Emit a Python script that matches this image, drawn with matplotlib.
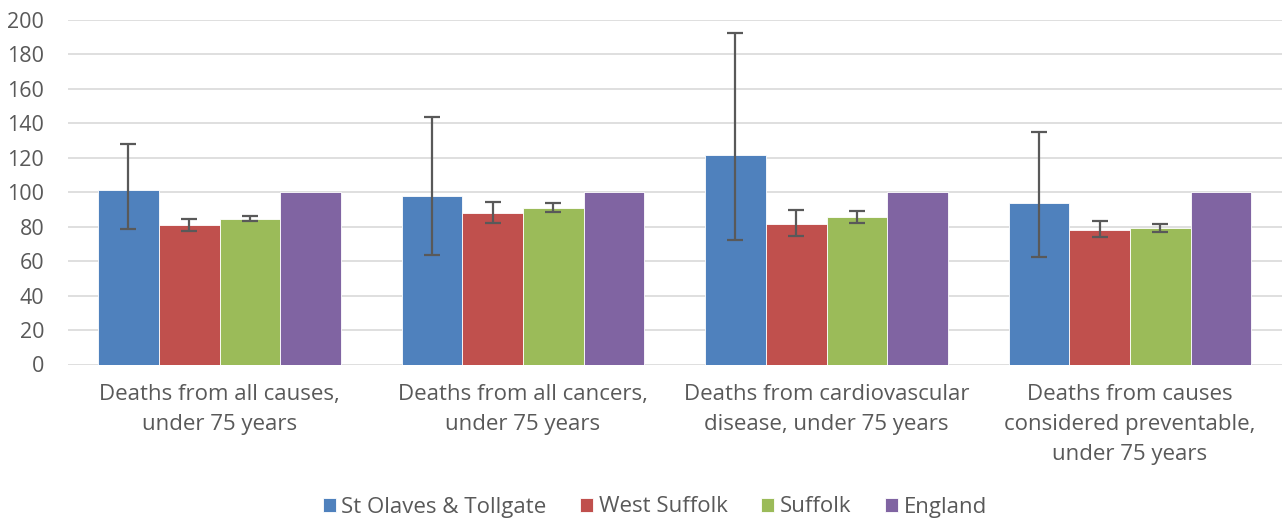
import matplotlib.pyplot as plt
import numpy as np

TEXT = "#595959"
GRID = "#D9D9D9"
ERR = "#595959"

categories = [
    "Deaths from all causes,\nunder 75 years",
    "Deaths from all cancers,\nunder 75 years",
    "Deaths from cardiovascular\ndisease, under 75 years",
    "Deaths from causes\nconsidered preventable,\nunder 75 years",
]
series_names = ["St Olaves & Tollgate", "West Suffolk", "Suffolk", "England"]
series_colors = ["#4F81BD", "#C0504D", "#9BBB59", "#8064A2"]

st_olaves = [101.0, 97.5, 121.5, 93.6]
st_olaves_low = [78.7, 63.4, 72.3, 62.4]
st_olaves_high = [128.0, 143.5, 192.5, 134.6]

west_suffolk = [80.7, 87.8, 81.6, 78.3]
west_suffolk_low = [77.5, 82.0, 74.6, 73.7]
west_suffolk_high = [84.3, 94.0, 89.4, 83.3]

suffolk = [84.5, 90.7, 85.5, 79.1]
suffolk_low = [83.2, 88.2, 82.2, 76.8]
suffolk_high = [86.2, 93.6, 89.1, 81.6]

england = [100, 100, 100, 100]

values = [st_olaves, west_suffolk, suffolk, england]
lows = [st_olaves_low, west_suffolk_low, suffolk_low, None]
highs = [st_olaves_high, west_suffolk_high, suffolk_high, None]

plt.rcParams["font.family"] = ["Open Sans", "DejaVu Sans"]

fig = plt.figure(figsize=(12.82, 5.19), dpi=100, facecolor="white")
ax = fig.add_axes([67.75 / 1282, 1 - 364.5 / 519, (1281.75 - 67.75) / 1282, (364.5 - 19.7) / 519])

x = np.arange(len(categories))
width = 0.2
for i, (name, vals, color) in enumerate(zip(series_names, values, series_colors)):
    pos = x + (i - 1.5) * width
    ax.bar(pos, vals, width, color=color, edgecolor="white", linewidth=0.6, label=name, zorder=2)
    if lows[i] is not None:
        v = np.array(vals)
        yerr = [v - np.array(lows[i]), np.array(highs[i]) - v]
        ax.errorbar(pos, v, yerr=yerr, fmt="none", ecolor=ERR, elinewidth=1.6,
                    capsize=5.5, capthick=1.6, zorder=3)

ax.set_xlim(-0.5, len(categories) - 0.5)
ax.set_ylim(0, 200)
ax.set_yticks(np.arange(0, 201, 20))
ax.grid(axis="y", color=GRID, linewidth=1.2, zorder=0)
ax.set_axisbelow(True)
for side in ["top", "right", "left", "bottom"]:
    ax.spines[side].set_visible(False)
ax.tick_params(axis="both", length=0, colors=TEXT, labelsize=15.5)
ax.tick_params(axis="y", pad=17)
ax.tick_params(axis="x", pad=14)
ax.set_xticks(x, categories, linespacing=1.55)
for lbl in ax.get_xticklabels():
    lbl.set_fontsize(16)

ax.legend(loc="center", bbox_to_anchor=(0.4835, (364.5 - 507) / (364.5 - 19.7)), ncol=4, frameon=False,
          fontsize=16, labelcolor=TEXT, handlelength=0.6, handleheight=0.6, handletextpad=0.25,
          columnspacing=1.5)

fig.savefig("out.png", dpi=100, facecolor="white")
